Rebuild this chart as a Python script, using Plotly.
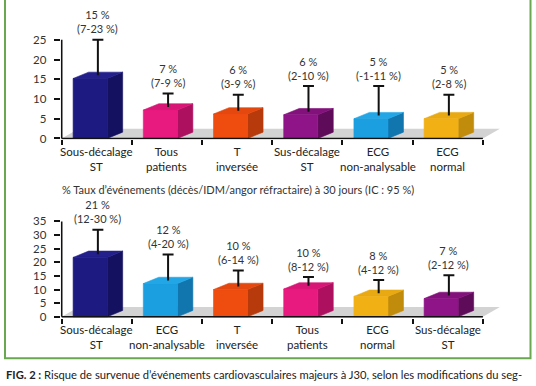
import plotly.graph_objects as go

# ---------------- data ----------------
top_categories = [["Sous-décalage", "ST"], ["Tous", "patients"], ["T", "inversée"],
                  ["Sus-décalage", "ST"], ["ECG", "non-analysable"], ["ECG", "normal"]]
top_values = [15.2, 7.2, 6.2, 6.0, 5.0, 5.0]
top_err_top = [25.0, 11.4, 11.1, 13.3, 13.3, 11.1]
top_labels = [["15 %", "(7-23 %)"], ["7 %", "(7-9 %)"], ["6 %", "(3-9 %)"],
              ["6 %", "(2-10 %)"], ["5 %", "(-1-11 %)"], ["5 %", "(2-8 %)"]]
top_yticks = [0, 5, 10, 15, 20, 25]

bot_categories = [["Sous-décalage", "ST"], ["ECG", "non-analysable"], ["T", "inversée"],
                  ["Tous", "patients"], ["ECG", "normal"], ["Sus-décalage", "ST"]]
bot_values = [21.8, 12.2, 10.0, 10.2, 7.5, 6.7]
bot_err_top = [32.0, 22.9, 17.0, 14.6, 13.5, 15.3]
bot_labels = [["21 %", "(12-30 %)"], ["12 %", "(4-20 %)"], ["10 %", "(6-14 %)"],
              ["10 %", "(8-12 %)"], ["8 %", "(4-12 %)"], ["7 %", "(2-12 %)"]]
bot_yticks = [0, 5, 10, 15, 20, 25, 30, 35]

bot_title = "% Taux d’événements (décès/IDM/angor réfractaire) à 30 jours (IC : 95 %)"
caption_bold = "FIG. 2 :"
caption_text = " Risque de survenue d’événements cardiovasculaires majeurs à J30, selon les modifications du seg-"

# colours per category: (front, top, side)
palette = {
    "Sous-décalage ST": ("#1d1b82", "#23208c", "#141160"),
    "Tous patients": ("#e8197f", "#d81676", "#ae1060"),
    "T inversée": ("#ef4c10", "#e4480f", "#b63a0c"),
    "Sus-décalage ST": ("#8e1487", "#82117b", "#5e0b5a"),
    "ECG non-analysable": ("#1c9fe0", "#22a6e6", "#1176ae"),
    "ECG normal": ("#f1b014", "#e8a912", "#c18c0c"),
}

# ---------------- geometry / style ----------------
W, H = 536, 386
FONT = "Lato"
TXT = "#333333"
X0_PX = 61.7          # pixel of x=-0.5
XPPU = 70.2           # px per category
XMIN, XMAX = -0.515, 5.8
FRONT_W = 0.485
FRONT_OFF = -0.095
DEPTH_X = 15.5 / XPPU
DEPTH_Y_PX = 6.5
FLOOR_X = 17 / XPPU
FLOOR_Y_PX = 10
CAP = 0.078

charts = [
    dict(cats=top_categories, vals=top_values, err=top_err_top, labels=top_labels,
         yticks=top_yticks, y0_px=137.7, yppu=4.04, ymin=-0.25, ymax=27.5),
    dict(cats=bot_categories, vals=bot_values, err=bot_err_top, labels=bot_labels,
         yticks=bot_yticks, y0_px=320.3, yppu=2.79, ymin=-0.3, ymax=36.0),
]

fig = go.Figure()
annotations = []

xdom = [(X0_PX + (XMIN + 0.5) * XPPU) / W, (X0_PX + (XMAX + 0.5) * XPPU) / W]

for k, ch in enumerate(charts):
    xa = "x" if k == 0 else "x2"
    ya = "y" if k == 0 else "y2"
    yppu = ch["yppu"]
    dy = DEPTH_Y_PX / yppu
    fdy = FLOOR_Y_PX / yppu
    ytop_axis = ch["yticks"][-1]

    # floor
    fig.add_trace(go.Scatter(
        x=[-0.5, 5.5, 5.5 + FLOOR_X, -0.5 + FLOOR_X, -0.5],
        y=[0, 0, fdy, fdy, 0], mode="lines", fill="toself",
        fillcolor="#d3d3d3", line=dict(width=0, color="#d3d3d3"),
        hoverinfo="skip", showlegend=False, xaxis=xa, yaxis=ya))

    for i, (cat, v, e, lab) in enumerate(zip(ch["cats"], ch["vals"], ch["err"], ch["labels"])):
        front, topc, side = palette[" ".join(cat)]
        fl = i + FRONT_OFF - FRONT_W / 2
        fr = i + FRONT_OFF + FRONT_W / 2
        # side face
        fig.add_trace(go.Scatter(
            x=[fr, fr + DEPTH_X, fr + DEPTH_X, fr, fr],
            y=[0, dy, v + dy, v, 0], mode="lines", fill="toself",
            fillcolor=side, line=dict(width=0.6, color=side),
            hoverinfo="skip", showlegend=False, xaxis=xa, yaxis=ya))
        # top face
        fig.add_trace(go.Scatter(
            x=[fl, fr, fr + DEPTH_X, fl + DEPTH_X, fl],
            y=[v, v, v + dy, v + dy, v], mode="lines", fill="toself",
            fillcolor=topc, line=dict(width=0.6, color=topc),
            hoverinfo="skip", showlegend=False, xaxis=xa, yaxis=ya))
        # front face
        fig.add_trace(go.Scatter(
            x=[fl, fr, fr, fl, fl],
            y=[0, 0, v, v, 0], mode="lines", fill="toself",
            fillcolor=front, line=dict(width=0.6, color=front),
            hoverinfo="skip", showlegend=False, xaxis=xa, yaxis=ya))
        # whisker
        wx = i + FRONT_OFF + DEPTH_X / 2
        fig.add_trace(go.Scatter(
            x=[wx, wx, None, wx - CAP, wx + CAP],
            y=[v + dy / 2, e, None, e, e], mode="lines",
            line=dict(width=2, color="#111111"),
            hoverinfo="skip", showlegend=False, xaxis=xa, yaxis=ya))
        # value label (two lines)
        annotations.append(dict(
            x=wx, y=e, xref=xa, yref=ya, text="<br>".join(lab), showarrow=False,
            xanchor="center", yanchor="middle", yshift=18,
            font=dict(family=FONT, size=11, color=TXT)))
        # category label (two lines)
        annotations.append(dict(
            x=i, y=0, xref=xa, yref=ya, text="<br>".join(cat), showarrow=False,
            xanchor="center", yanchor="middle", yshift=-20.5,
            font=dict(family=FONT, size=11.5, color="#222222")))

    # axis lines
    fig.add_trace(go.Scatter(
        x=[-0.5, 5.5, None, -0.5, -0.5], y=[0, 0, None, 0, ytop_axis], mode="lines",
        line=dict(width=1.6, color="#111111"), hoverinfo="skip",
        showlegend=False, xaxis=xa, yaxis=ya))

    ydom = [1 - (ch["y0_px"] - ch["ymin"] * yppu) / H,
            1 - (ch["y0_px"] - ch["ymax"] * yppu) / H]
    xkey = "xaxis" if k == 0 else "xaxis2"
    ykey = "yaxis" if k == 0 else "yaxis2"
    fig.update_layout(**{
        xkey: dict(domain=xdom, range=[XMIN, XMAX], anchor=ya,
                   tickvals=[-0.5 + t for t in range(7)], ticktext=[""] * 7,
                   ticks="outside", ticklen=5, tickwidth=1.6, tickcolor="#111111",
                   showgrid=False, zeroline=False, showline=False, fixedrange=True),
        ykey: dict(domain=ydom, range=[ch["ymin"], ch["ymax"]], anchor=xa,
                   tickvals=ch["yticks"], ticks="outside", ticklen=6, tickwidth=1.6,
                   tickcolor="#111111", ticklabelstandoff=5,
                   tickfont=dict(family=FONT, size=11.5, color=TXT),
                   showgrid=False, zeroline=False, showline=False, fixedrange=True),
    })

# bottom chart title
annotations.append(dict(
    x=60 / W, y=1 - 190 / H, xref="paper", yref="paper", text=bot_title,
    showarrow=False, xanchor="left", yanchor="middle",
    font=dict(family=FONT, size=11, color=TXT)))

# caption
annotations.append(dict(
    x=4 / W, y=1 - 379.5 / H, xref="paper", yref="paper",
    text="<b>" + caption_bold + "</b>" + caption_text,
    showarrow=False, xanchor="left", yanchor="middle",
    font=dict(family=FONT, size=11.2, color="#222222")))

fig.update_layout(
    width=W, height=H, margin=dict(l=0, r=0, t=0, b=0),
    paper_bgcolor="white", plot_bgcolor="rgba(0,0,0,0)",
    showlegend=False, annotations=annotations,
    shapes=[dict(type="rect", xref="paper", yref="paper",
                 x0=5 / W, x1=530.5 / W, y0=1 - 362.7 / H, y1=1.05,
                 line=dict(color="#6aa84f", width=2), fillcolor="rgba(0,0,0,0)",
                 layer="below")],
)

fig.write_html("out.html", config={"displayModeBar": False},
               post_script="document.body.style.margin='0px';document.body.style.overflow='hidden';")
